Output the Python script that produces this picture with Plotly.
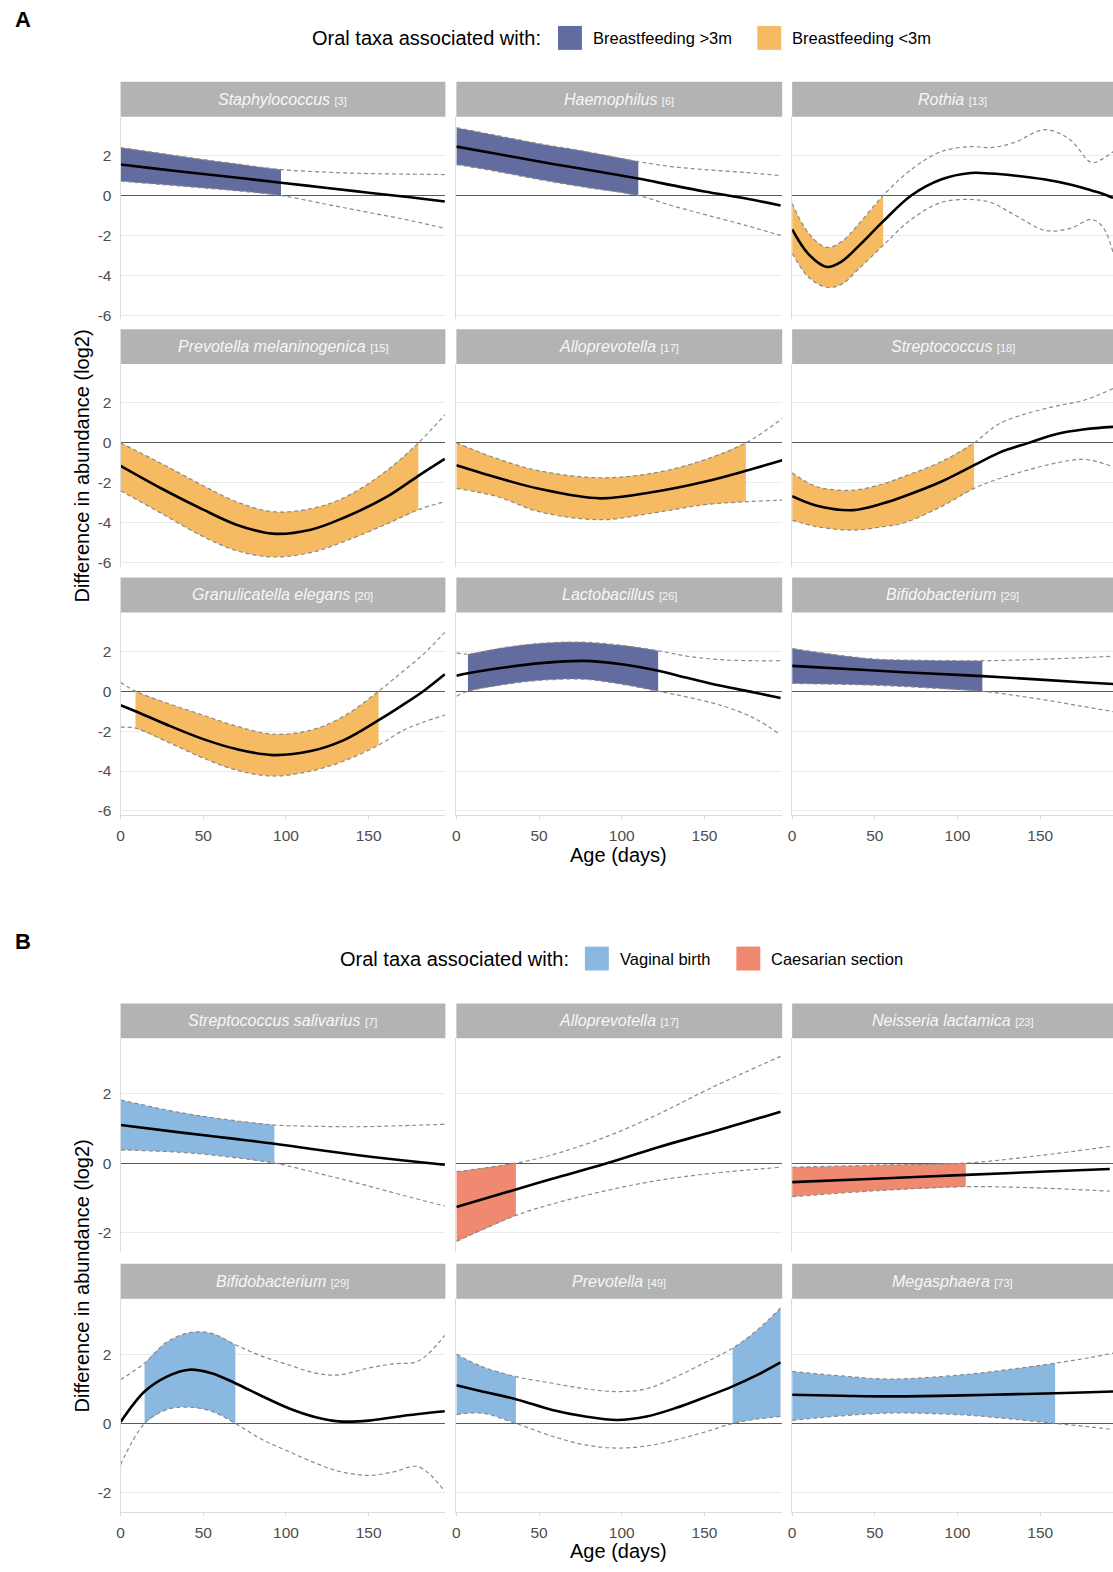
import plotly.graph_objects as go

W, H = 1113, 1572

# ---------------- DATA ----------------
# Section A: oral taxa associated with breastfeeding duration
staph_age = [0, 25, 50, 75, 97, 125, 150, 175, 196]
staph_fit = [1.55, 1.31, 1.08, 0.85, 0.64, 0.38, 0.14, -0.09, -0.3]
staph_hi = [2.4, 2.1, 1.8, 1.53, 1.3, 1.17, 1.1, 1.07, 1.05]
staph_lo = [0.72, 0.55, 0.38, 0.2, 0.0, -0.45, -0.85, -1.25, -1.65]
staph_sig = [(0, 97)]

haemo_age = [0, 25, 50, 75, 110, 130, 150, 175, 196]
haemo_fit = [2.45, 2.08, 1.7, 1.35, 0.85, 0.52, 0.2, -0.15, -0.5]
haemo_hi = [3.4, 3.0, 2.6, 2.25, 1.7, 1.45, 1.3, 1.15, 1.0]
haemo_lo = [1.55, 1.2, 0.8, 0.45, 0.0, -0.5, -0.95, -1.5, -2.0]
haemo_sig = [(0, 110)]

rothia_age = [0, 10, 21, 30, 40, 55, 72, 90, 108, 120, 134, 153, 168, 181, 188, 194]
rothia_fit = [-1.7, -2.95, -3.58, -3.3, -2.55, -1.3, 0.0, 0.8, 1.13, 1.1, 1.0, 0.8, 0.55, 0.25, 0.08, -0.12]
rothia_hi = [-0.4, -1.9, -2.6, -2.3, -1.45, 0.0, 1.3, 2.2, 2.45, 2.4, 2.65, 3.3, 2.8, 1.65, 1.85, 2.2]
rothia_lo = [-2.9, -4.1, -4.6, -4.45, -3.7, -2.5, -1.2, -0.35, -0.2, -0.35, -0.95, -1.75, -1.65, -1.2, -1.6, -2.85]
rothia_sig = [(0, 55)]

pmel_age = [0, 25, 50, 70, 92, 115, 135, 160, 180, 196]
pmel_fit = [-1.15, -2.3, -3.35, -4.1, -4.55, -4.35, -3.75, -2.75, -1.65, -0.8]
pmel_hi = [0.0, -1.05, -2.15, -2.95, -3.45, -3.3, -2.75, -1.45, 0.0, 1.4]
pmel_lo = [-2.4, -3.55, -4.7, -5.4, -5.72, -5.5, -4.95, -4.1, -3.35, -2.95]
pmel_sig = [(0, 180)]

allo_a_age = [0, 25, 50, 87, 120, 150, 175, 197]
allo_a_fit = [-1.12, -1.75, -2.3, -2.78, -2.45, -1.95, -1.4, -0.87]
allo_a_hi = [0.0, -0.8, -1.4, -1.75, -1.5, -0.85, 0.0, 1.22]
allo_a_lo = [-2.28, -2.7, -3.45, -3.85, -3.5, -3.1, -2.95, -2.87]
allo_a_sig = [(0, 175)]

strep_age = [0, 15, 37, 55, 67, 90, 110, 125, 143, 160, 177, 194]
strep_fit = [-2.67, -3.15, -3.37, -3.03, -2.7, -1.95, -1.12, -0.5, 0.0, 0.45, 0.68, 0.8]
strep_hi = [-1.5, -2.2, -2.37, -2.05, -1.7, -0.95, 0.0, 0.95, 1.5, 1.85, 2.15, 2.72]
strep_lo = [-3.87, -4.2, -4.37, -4.2, -4.03, -3.2, -2.28, -1.8, -1.35, -1.0, -0.83, -1.2]
strep_sig = [(0, 110)]

gran_age = [0, 9, 30, 50, 70, 92, 115, 135, 156, 170, 183, 196]
gran_fit = [-0.7, -1.0, -1.75, -2.4, -2.9, -3.2, -3.0, -2.45, -1.45, -0.72, 0.0, 0.85]
gran_hi = [0.45, 0.0, -0.65, -1.2, -1.75, -2.15, -1.95, -1.25, 0.0, 0.95, 1.85, 2.95]
gran_lo = [-1.8, -1.85, -2.6, -3.35, -3.95, -4.25, -4.0, -3.5, -2.7, -2.0, -1.55, -1.2]
gran_sig = [(9, 156)]

lacto_age = [0, 7, 30, 51, 77, 100, 122, 140, 160, 180, 196]
lacto_fit = [0.78, 0.9, 1.2, 1.41, 1.52, 1.35, 1.03, 0.66, 0.27, -0.06, -0.34]
lacto_hi = [1.92, 1.86, 2.2, 2.4, 2.46, 2.3, 2.03, 1.75, 1.58, 1.53, 1.53]
lacto_lo = [-0.25, 0.0, 0.35, 0.55, 0.6, 0.35, 0.0, -0.3, -0.71, -1.35, -2.19]
lacto_sig = [(7, 122)]

bifa_age = [0, 47, 80, 115, 150, 175, 194]
bifa_fit = [1.27, 1.05, 0.9, 0.76, 0.58, 0.45, 0.36]
bifa_hi = [2.14, 1.63, 1.55, 1.53, 1.6, 1.68, 1.75]
bifa_lo = [0.39, 0.31, 0.18, 0.0, -0.4, -0.75, -1.02]
bifa_sig = [(0, 115)]

# Section B: oral taxa associated with birth mode
ssal_age = [0, 37, 65, 93, 120, 145, 170, 196]
ssal_fit = [1.1, 0.88, 0.72, 0.56, 0.38, 0.22, 0.08, -0.05]
ssal_hi = [1.82, 1.45, 1.25, 1.1, 1.06, 1.05, 1.08, 1.12]
ssal_lo = [0.38, 0.31, 0.18, 0.0, -0.3, -0.6, -0.92, -1.24]
ssal_sig = [(0, 93)]

allo_b_age = [0, 36, 58, 90, 122, 154, 196]
allo_b_fit = [-1.27, -0.76, -0.45, -0.02, 0.46, 0.89, 1.48]
allo_b_hi = [-0.25, 0.0, 0.24, 0.75, 1.41, 2.17, 3.08]
allo_b_lo = [-2.26, -1.51, -1.18, -0.8, -0.5, -0.3, -0.12]
allo_b_sig = [(0, 36)]

neis_age = [0, 50, 105, 150, 192]
neis_fit = [-0.55, -0.45, -0.34, -0.25, -0.17]
neis_hi = [-0.12, -0.06, 0.0, 0.22, 0.48]
neis_lo = [-0.97, -0.8, -0.68, -0.72, -0.81]
neis_sig = [(0, 105)]

bifb_age = [0, 14.5, 28, 41.4, 55, 69.4, 85, 101.6, 118, 132, 150, 165, 180, 196]
bifb_fit = [0.04, 0.92, 1.35, 1.55, 1.45, 1.16, 0.8, 0.44, 0.18, 0.06, 0.08, 0.18, 0.27, 0.35]
bifb_hi = [1.26, 1.74, 2.35, 2.62, 2.6, 2.27, 1.95, 1.69, 1.45, 1.4, 1.6, 1.72, 1.8, 2.54]
bifb_lo = [-1.19, 0.0, 0.4, 0.47, 0.35, 0.0, -0.45, -0.81, -1.15, -1.38, -1.5, -1.4, -1.25, -1.96]
bifb_sig = [(14.5, 69.4)]

prev_age = [0, 15, 36, 58, 78, 97, 115, 133, 150, 167, 182, 196]
prev_fit = [1.1, 0.93, 0.7, 0.39, 0.2, 0.1, 0.2, 0.45, 0.75, 1.07, 1.4, 1.76]
prev_hi = [2.0, 1.65, 1.35, 1.16, 1.0, 0.92, 1.0, 1.35, 1.75, 2.17, 2.7, 3.33]
prev_lo = [0.25, 0.3, 0.0, -0.37, -0.62, -0.71, -0.65, -0.47, -0.25, 0.0, 0.13, 0.2]
prev_sig = [(0, 36), (167, 196)]

mega_age = [0, 30, 59, 102, 130, 159, 180, 194]
mega_fit = [0.83, 0.8, 0.78, 0.81, 0.84, 0.87, 0.9, 0.92]
mega_hi = [1.5, 1.37, 1.28, 1.4, 1.55, 1.74, 1.9, 2.03]
mega_lo = [0.09, 0.22, 0.3, 0.25, 0.14, 0.0, -0.1, -0.18]
mega_sig = [(0, 159)]

a_names = ["Staphylococcus", "Haemophilus", "Rothia", "Prevotella melaninogenica",
           "Alloprevotella", "Streptococcus", "Granulicatella elegans",
           "Lactobacillus", "Bifidobacterium"]
a_ranks = [3, 6, 13, 15, 17, 18, 20, 26, 29]
a_groups = [">3m", ">3m", "<3m", "<3m", "<3m", "<3m", "<3m", ">3m", ">3m"]

b_names = ["Streptococcus salivarius", "Alloprevotella", "Neisseria lactamica",
           "Bifidobacterium", "Prevotella", "Megasphaera"]
b_ranks = [7, 17, 23, 29, 49, 73]
b_groups = ["VB", "CS", "CS", "VB", "VB", "VB"]

a_legend_labels = ["Breastfeeding >3m", "Breastfeeding <3m"]
b_legend_labels = ["Vaginal birth", "Caesarian section"]
legend_title = "Oral taxa associated with:"

x_ticks = [0, 50, 100, 150]
a_y_ticks = [-6, -4, -2, 0, 2]
b_y_ticks = [-2, 0, 2]

# ---------------- STYLE ----------------
COLORS = {">3m": "#636C9E", "<3m": "#F5BA62", "VB": "#8BB8E1", "CS": "#EF8A71"}
FONT = "Liberation Sans"
COLS = [(117, 443), (454, 781), (791, 1113)]
PX_PER_DAY = 1.66
A_ROW_TOPS = [117, 365, 614]
A_H = 203
A_YR = [-6.2, 3.95]
B_ROW_TOPS = [1041, 1302]
B_H = 214
B_YR = [-2.56, 3.6]
STRIP_H = 35

a_series = [
    (staph_age, staph_fit, staph_lo, staph_hi, staph_sig),
    (haemo_age, haemo_fit, haemo_lo, haemo_hi, haemo_sig),
    (rothia_age, rothia_fit, rothia_lo, rothia_hi, rothia_sig),
    (pmel_age, pmel_fit, pmel_lo, pmel_hi, pmel_sig),
    (allo_a_age, allo_a_fit, allo_a_lo, allo_a_hi, allo_a_sig),
    (strep_age, strep_fit, strep_lo, strep_hi, strep_sig),
    (gran_age, gran_fit, gran_lo, gran_hi, gran_sig),
    (lacto_age, lacto_fit, lacto_lo, lacto_hi, lacto_sig),
    (bifa_age, bifa_fit, bifa_lo, bifa_hi, bifa_sig),
]
b_series = [
    (ssal_age, ssal_fit, ssal_lo, ssal_hi, ssal_sig),
    (allo_b_age, allo_b_fit, allo_b_lo, allo_b_hi, allo_b_sig),
    (neis_age, neis_fit, neis_lo, neis_hi, neis_sig),
    (bifb_age, bifb_fit, bifb_lo, bifb_hi, bifb_sig),
    (prev_age, prev_fit, prev_lo, prev_hi, prev_sig),
    (mega_age, mega_fit, mega_lo, mega_hi, mega_sig),
]

panels = []
for i in range(9):
    panels.append(dict(name=a_names[i], rank=a_ranks[i], group=a_groups[i],
                       data=a_series[i], row=i // 3, col=i % 3,
                       top=A_ROW_TOPS[i // 3], h=A_H, yr=A_YR, yt=a_y_ticks,
                       bottom_row=(i // 3 == 2)))
for i in range(6):
    panels.append(dict(name=b_names[i], rank=b_ranks[i], group=b_groups[i],
                       data=b_series[i], row=i // 3, col=i % 3,
                       top=B_ROW_TOPS[i // 3], h=B_H, yr=B_YR, yt=b_y_ticks,
                       bottom_row=(i // 3 == 1)))

fig = go.Figure()
layout = {}
shapes = []
annotations = []


def px_x(p):
    return p / W


def px_y(p):
    return 1 - p / H


TICKFONT = dict(family=FONT, size=15.5, color="#4D4D4D")

for k, p in enumerate(panels, start=1):
    xa = "x" if k == 1 else f"x{k}"
    ya = "y" if k == 1 else f"y{k}"
    l, r = COLS[p["col"]]
    top, h = p["top"], p["h"]
    xmax = (r - l) / PX_PER_DAY
    age, fit, lo, hi, sig = p["data"]
    col = COLORS[p["group"]]

    # significant (shaded) windows
    for (s, e) in sig:
        idx = [j for j, a in enumerate(age) if s <= a <= e]
        xs = [age[j] for j in idx]
        fig.add_trace(go.Scatter(x=xs, y=[lo[j] for j in idx], mode="lines",
                                 line=dict(width=0, shape="spline", color=col),
                                 xaxis=xa, yaxis=ya, hoverinfo="skip", showlegend=False))
        fig.add_trace(go.Scatter(x=xs, y=[hi[j] for j in idx], mode="lines",
                                 line=dict(width=0, shape="spline", color=col),
                                 fill="tonexty", fillcolor=col,
                                 xaxis=xa, yaxis=ya, hoverinfo="skip", showlegend=False))
    # confidence bounds
    for band in (lo, hi):
        fig.add_trace(go.Scatter(x=age, y=band, mode="lines",
                                 line=dict(width=1.2, color="#8A8A8A", dash="4px,3px", shape="spline"),
                                 xaxis=xa, yaxis=ya, hoverinfo="skip", showlegend=False))
    # fitted difference
    fig.add_trace(go.Scatter(x=age, y=fit, mode="lines",
                             line=dict(width=2.6, color="black", shape="spline"),
                             xaxis=xa, yaxis=ya, hoverinfo="skip", showlegend=False))

    layout["xaxis" if k == 1 else f"xaxis{k}"] = dict(
        domain=[px_x(l), px_x(r)], range=[0, xmax], anchor=ya,
        showgrid=False, zeroline=False,
        showline=p["bottom_row"], linecolor="#DCDCDC", linewidth=1,
        tickvals=x_ticks, ticktext=[str(t) for t in x_ticks],
        showticklabels=p["bottom_row"], ticklabelstandoff=3,
        ticks="outside" if p["bottom_row"] else "", ticklen=3, tickcolor="#DCDCDC",
        tickfont=TICKFONT, fixedrange=True)
    layout["yaxis" if k == 1 else f"yaxis{k}"] = dict(
        domain=[px_y(top + h), px_y(top)], range=p["yr"], anchor=xa,
        showgrid=True, gridcolor="#EBEBEB", gridwidth=1,
        zeroline=True, zerolinecolor="#5A5A5A", zerolinewidth=1.2,
        showline=True, linecolor="#DCDCDC", linewidth=1,
        tickvals=p["yt"], ticktext=[str(t) for t in p["yt"]],
        showticklabels=(p["col"] == 0), ticks="", ticklabelstandoff=5,
        tickfont=TICKFONT, fixedrange=True)

    # strip
    shapes.append(dict(type="rect", xref="paper", yref="paper",
                       x0=px_x(l), x1=px_x(r), y0=px_y(top), y1=px_y(top - STRIP_H),
                       fillcolor="#B3B3B3", line=dict(width=0), layer="below"))
    annotations.append(dict(
        x=px_x((l + min(r, l + 327)) / 2), y=px_y(top - STRIP_H / 2), xref="paper", yref="paper",
        text=f"<i>{p['name']}</i> <span style='font-size:11px'>[{p['rank']}]</span>",
        showarrow=False, font=dict(family=FONT, size=16, color="#F7F7F7"),
        xanchor="center", yanchor="middle"))

# section labels
annotations.append(dict(x=px_x(9), y=px_y(20), xref="paper", yref="paper", text="<b>A</b>",
                        showarrow=False, xanchor="left", yanchor="middle",
                        font=dict(family=FONT, size=22, color="black")))
annotations.append(dict(x=px_x(9), y=px_y(944), xref="paper", yref="paper", text="<b>B</b>",
                        showarrow=False, xanchor="left", yanchor="middle",
                        font=dict(family=FONT, size=22, color="black")))


# legends
def add_legend(title_right, cy, items):
    annotations.append(dict(x=px_x(title_right), y=px_y(cy), xref="paper", yref="paper",
                            text=legend_title, showarrow=False, xanchor="right", yanchor="middle",
                            font=dict(family=FONT, size=20, color="black")))
    for (box_l, label, color) in items:
        shapes.append(dict(type="rect", xref="paper", yref="paper",
                           x0=px_x(box_l), x1=px_x(box_l + 24), y0=px_y(cy + 12), y1=px_y(cy - 12),
                           fillcolor=color, line=dict(width=0)))
        annotations.append(dict(x=px_x(box_l + 33), y=px_y(cy), xref="paper", yref="paper",
                                text=label, showarrow=False, xanchor="left", yanchor="middle",
                                font=dict(family=FONT, size=16.5, color="black")))


add_legend(541, 38, [(556, a_legend_labels[0], COLORS[">3m"]),
                     (756, a_legend_labels[1], COLORS["<3m"])])
add_legend(569, 961, [(583, b_legend_labels[0], COLORS["VB"]),
                      (735, b_legend_labels[1], COLORS["CS"])])

# axis titles
for cy in (467, 1279):
    annotations.append(dict(x=px_x(78), y=px_y(cy), xref="paper", yref="paper",
                            text="Difference in abundance (log2)", textangle=-90,
                            showarrow=False, xanchor="center", yanchor="middle",
                            font=dict(family=FONT, size=20, color="black")))
for cy in (857, 1555):
    annotations.append(dict(x=px_x(617), y=px_y(cy), xref="paper", yref="paper",
                            text="Age (days)", showarrow=False, xanchor="center", yanchor="middle",
                            font=dict(family=FONT, size=20, color="black")))

fig.update_layout(**layout)
fig.update_layout(width=W, height=H, margin=dict(l=0, r=0, t=0, b=0),
                  paper_bgcolor="white", plot_bgcolor="white", showlegend=False,
                  shapes=shapes, annotations=annotations,
                  font=dict(family=FONT))

fig.write_html("out.html", config={"displayModeBar": False},
               post_script="document.body.style.margin='0';document.body.style.padding='0';")
